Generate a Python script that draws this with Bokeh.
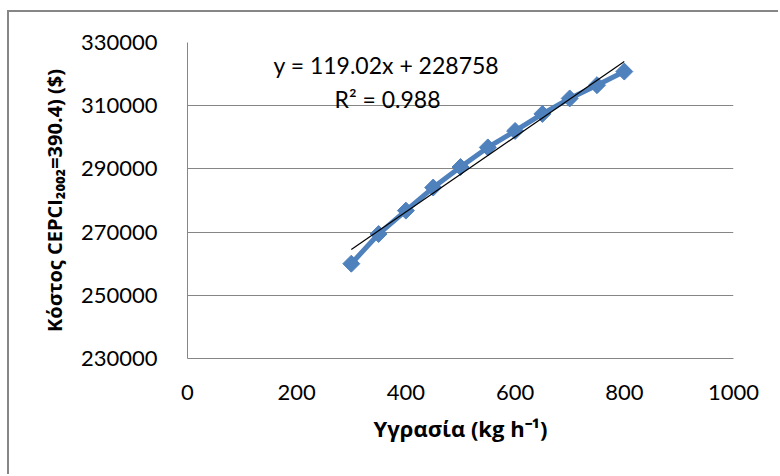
import numpy as np
from bokeh.plotting import figure
from bokeh.models import Label, Range1d, FixedTicker, NumeralTickFormatter
from bokeh.embed import file_html
from bokeh.resources import INLINE

# ---- data ----
moisture = [300, 350, 400, 450, 500, 550, 600, 650, 700, 750, 800]
cost = [260000, 269400, 276800, 284100, 290600, 296800, 302000, 307400, 312300, 316500, 320800]
x_ticks = [0, 200, 400, 600, 800, 1000]
y_ticks = [230000, 250000, 270000, 290000, 310000, 330000]
trend_slope = 119.02
trend_intercept = 228758
trend_range = [300, 800]
equation_text = "y = 119.02x + 228758"
r2_text = "R² = 0.988"
y_title = "Κόστος CEPCI₂₀₀₂=390.4) ($)"
x_title = "Υγρασία (kg h⁻¹)"

# ---- layout ----
X0, X1, Y0, Y1 = 0, 1000, 230000, 330000
FL, FR, FT, FB = 187, 733, 42, 358  # frame pixel box in page


def dx(px):
    return X0 + (px - FL) / (FR - FL) * (X1 - X0)


def dy(py):
    return Y1 - (py - FT) / (FB - FT) * (Y1 - Y0)


GRAY = "#868686"
BLUE = "#4F81BD"
FONT = "Lato"
TITLE_FONT = "Open Sans"

p = figure(width=771, height=464,
           x_range=Range1d(X0, X1), y_range=Range1d(Y0, Y1),
           output_backend="svg", toolbar_location=None,
           min_border_left=178, min_border_right=47,
           min_border_top=30, min_border_bottom=118,
           margin=(10, 0, 0, 7),
           styles={"border-left": f"2px solid {GRAY}", "border-top": f"2px solid {GRAY}"})
p.outline_line_color = None
p.background_fill_color = "white"
p.border_fill_color = "white"

p.xgrid.visible = False
p.ygrid.ticker = FixedTicker(ticks=y_ticks)
p.ygrid.grid_line_color = GRAY
p.ygrid.grid_line_width = 1

p.xaxis.ticker = FixedTicker(ticks=x_ticks)
p.yaxis.ticker = FixedTicker(ticks=y_ticks)
p.yaxis.formatter = NumeralTickFormatter(format="0")
for ax in (p.xaxis[0], p.yaxis[0]):
    ax.axis_line_color = GRAY
    ax.axis_line_width = 1
    ax.major_tick_line_color = None
    ax.minor_tick_line_color = None
    ax.major_label_text_font = FONT
    ax.major_label_text_font_size = "22px"
    ax.major_label_text_color = "black"
    ax.axis_label_text_font = TITLE_FONT
    ax.axis_label_text_font_style = "bold"
    ax.axis_label_text_color = "black"
p.xaxis.axis_label_text_font_size = "22px"
p.yaxis.axis_label_text_font_size = "20px"
p.xaxis.major_label_standoff = 20
p.yaxis.major_label_standoff = 24
p.xaxis.axis_label = x_title
p.yaxis.axis_label = y_title
p.xaxis.axis_label_standoff = 10
p.yaxis.axis_label_standoff = 10

# series
p.line(moisture, cost, line_width=5, color=BLUE)
p.scatter(moisture, cost, marker="square", angle=np.pi / 4, size=12,
          fill_color=BLUE, line_color=BLUE)

# trendline from the displayed equation
tx = np.array(trend_range, dtype=float)
ty = trend_slope * tx + trend_intercept
p.line(tx, ty, color="black", line_width=1.2)

# equation labels
p.add_layout(Label(x=dx(273), y=dy(64), text=equation_text, text_font=FONT,
                   text_font_size="23px", text_align="left", text_baseline="middle",
                   text_color="black"))
p.add_layout(Label(x=dx(334), y=dy(98), text=r2_text, text_font=FONT,
                   text_font_size="23px", text_align="left", text_baseline="middle",
                   text_color="black"))

open("out.html", "w").write(file_html(p, INLINE))
